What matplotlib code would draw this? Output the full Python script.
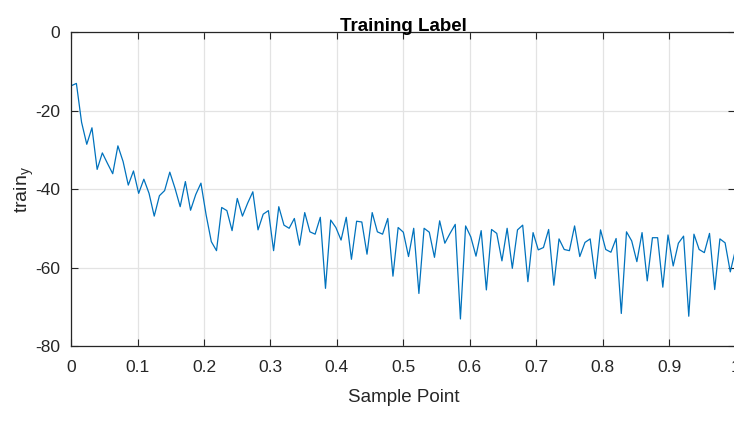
import numpy as np
import matplotlib.pyplot as plt

plt.rcParams['font.family'] = ['Liberation Sans', 'DejaVu Sans']
plt.rcParams['axes.unicode_minus'] = False

# label values, one per sample
train_y = [-13.7, -13.1, -23.0, -28.6, -24.4, -35.0, -30.8, -33.5, -36.1, -29.0,
           -33.0, -39.0, -35.4, -41.1, -37.5, -41.1, -46.9, -41.7, -40.4, -35.7,
           -39.8, -44.5, -38.1, -45.4, -41.4, -38.5, -46.6, -53.4, -55.7, -44.7,
           -45.5, -50.6, -42.4, -46.9, -43.6, -40.7, -50.4, -46.4, -45.5, -55.7,
           -44.5, -49.2, -50.0, -47.5, -54.3, -46.0, -50.9, -51.5, -47.2, -65.3,
           -47.9, -49.8, -53.0, -47.2, -57.9, -48.2, -48.4, -56.6, -46.0, -50.9,
           -51.5, -47.5, -62.2, -49.8, -51.0, -57.2, -50.0, -66.6, -50.0, -51.0,
           -57.4, -48.1, -53.8, -51.3, -49.0, -73.1, -49.4, -52.2, -57.1, -50.6,
           -65.7, -50.3, -51.3, -58.3, -50.0, -60.2, -50.4, -49.2, -63.6, -51.1,
           -55.5, -54.9, -50.3, -64.5, -52.7, -55.4, -55.7, -49.4, -57.2, -53.6,
           -52.7, -62.8, -50.4, -55.4, -56.1, -52.6, -71.7, -50.9, -53.2, -58.5,
           -51.1, -63.4, -52.4, -52.4, -65.0, -51.7, -59.6, -53.8, -52.0, -72.4,
           -51.5, -55.4, -56.2, -51.3, -65.6, -52.7, -53.7, -61.1, -55.5]
sample = np.linspace(0, 1, len(train_y))

xticks = [0, 0.1, 0.2, 0.3, 0.4, 0.5, 0.6, 0.7, 0.8, 0.9, 1]
xticklabels = ['0', '0.1', '0.2', '0.3', '0.4', '0.5', '0.6', '0.7', '0.8', '0.9', '1']
yticks = [-80, -60, -40, -20, 0]

fig = plt.figure(figsize=(7.34, 4.21), dpi=100)
ax = fig.add_axes([0.097, 0.178, 0.905, 0.746])

ax.plot(sample, train_y, color='#0072BD', linewidth=0.9)

ax.set_xlim(0, 1)
ax.set_ylim(-80, 0)
ax.set_xticks(xticks)
ax.set_xticklabels(xticklabels)
ax.set_yticks(yticks)
ax.grid(True, color='#e3e3e3', linewidth=0.9)
ax.set_axisbelow(True)
ax.tick_params(direction='in', top=True, right=True, length=5, labelsize=12.5,
               color='#262626', labelcolor='#262626')
ax.tick_params(axis='x', pad=10)
ax.tick_params(axis='y', pad=8)
for s in ax.spines.values():
    s.set_color('#262626')
    s.set_linewidth(0.9)

ax.set_title('Training Label', fontsize=13.5, fontweight='bold', pad=1)
ax.set_xlabel('Sample Point', fontsize=13.5, color='#262626', labelpad=10)
ax.set_ylabel('train$_{\\mathregular{y}}$', fontsize=14, color='#262626')
ax.yaxis.set_label_coords(-0.053, 0.5)

fig.savefig('out.png', dpi=100, facecolor='white')
